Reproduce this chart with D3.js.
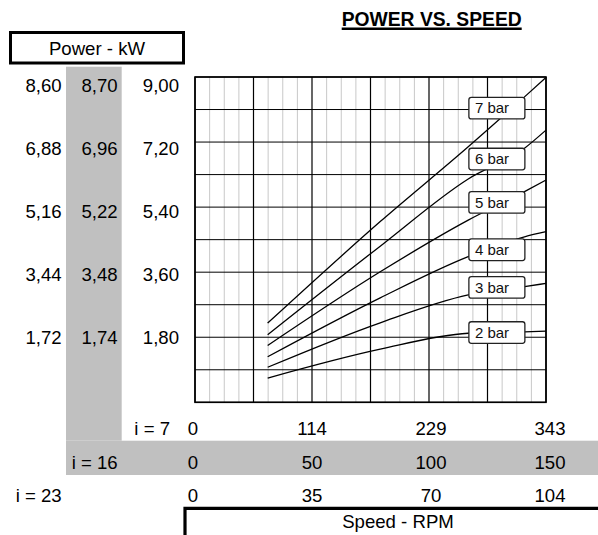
<!DOCTYPE html>
<html>
<head>
<meta charset="utf-8">
<script src="https://cdn.jsdelivr.net/npm/d3@7"></script>
<style>
  body { margin: 0; background: #fff; }
  svg { display: block; font-family: "Liberation Sans", Arial, sans-serif; }
</style>
</head>
<body>
<svg id="chart" width="598" height="535"></svg>
<script>
// speed (rpm, i = 7) where curves are sampled
var speedI7 = [71, 181, 267, 322, 343];

// power (kW) per pressure
var seriesNames = ["2 bar", "3 bar", "4 bar", "5 bar", "6 bar", "7 bar"];
var kw2 = [0.67, 1.47, 1.91, 1.95, 1.97];
var kw3 = [0.97, 2.20, 2.97, 3.20, 3.29];
var kw4 = [1.26, 2.89, 4.03, 4.58, 4.72];
var kw5 = [1.57, 3.61, 5.04, 5.83, 6.15];
var kw6 = [1.87, 4.32, 6.18, 7.03, 7.53];
var kw7 = [2.19, 5.00, 7.07, 8.45, 8.99];
var seriesValues = [kw2, kw3, kw4, kw5, kw6, kw7];

// where the "x bar" labels sit
var labelSpeed = 295;
var labelKw = [1.93, 3.18, 4.22, 5.53, 6.73, 8.14];

// tick labels
var powerCol1 = [8.60, 6.88, 5.16, 3.44, 1.72];
var powerCol2 = [8.70, 6.96, 5.22, 3.48, 1.74];
var powerCol3 = [9.00, 7.20, 5.40, 3.60, 1.80];
var rpmI7 = [0, 114, 229, 343];
var rpmI16 = [0, 50, 100, 150];
var rpmI23 = [0, 35, 70, 104];

var svg = d3.select("#chart");
var gray = "#c0c0c0";
var fs = 18.6;

var x = d3.scaleLinear().domain([0, 343]).range([195, 546]);
var y = d3.scaleLinear().domain([0, 9]).range([402.3, 77]);

var loc = d3.formatLocale({decimal: ",", thousands: ".", grouping: [3], currency: ["", ""]});
var f2 = loc.format(".2f");

// grey bands
svg.append("rect").attr("x", 66).attr("y", 66.7).attr("width", 55.7).attr("height", 374).attr("fill", gray);
svg.append("rect").attr("x", 66).attr("y", 440.7).attr("width", 532).attr("height", 34.3).attr("fill", gray);

// title
var title = svg.append("text").attr("x", 431.7).attr("y", 26)
  .attr("text-anchor", "middle").attr("font-weight", "bold").attr("font-size", 19.3)
  .text("POWER VS. SPEED");
var tw = title.node().getComputedTextLength();
svg.append("line").attr("x1", 431.7 - tw / 2).attr("x2", 431.7 + tw / 2)
  .attr("y1", 28.7).attr("y2", 28.7).attr("stroke", "#000").attr("stroke-width", 2.4);

// Power - kW box
svg.append("rect").attr("x", 10.5).attr("y", 32.5).attr("width", 173).attr("height", 30.5)
  .attr("fill", "none").attr("stroke", "#000").attr("stroke-width", 3);
svg.append("text").attr("x", 97).attr("y", 55).attr("text-anchor", "middle")
  .attr("font-size", fs).text("Power - kW");

// grid
var minor = d3.range(25).map(function(i) { return i * 343 / 24; });
var g = svg.append("g");
g.selectAll(".vminor").data(minor.filter(function(d, i) { return i % 4 != 0; }))
  .enter().append("line")
  .attr("x1", function(d) { return x(d); }).attr("x2", function(d) { return x(d); })
  .attr("y1", y(9)).attr("y2", y(0)).attr("stroke", "#c8c8c8").attr("stroke-width", 1);
g.selectAll(".h").data(d3.range(11).map(function(i) { return i * 0.9; }))
  .enter().append("line")
  .attr("x1", x(0)).attr("x2", x(343))
  .attr("y1", function(d) { return y(d); }).attr("y2", function(d) { return y(d); })
  .attr("stroke", "#000").attr("stroke-width", 1);
g.selectAll(".vmajor").data(minor.filter(function(d, i) { return i % 4 == 0; }))
  .enter().append("line")
  .attr("x1", function(d) { return x(d); }).attr("x2", function(d) { return x(d); })
  .attr("y1", y(9)).attr("y2", y(0)).attr("stroke", "#000").attr("stroke-width", 1.2);
g.append("rect").attr("x", x(0)).attr("y", y(9)).attr("width", x(343) - x(0)).attr("height", y(0) - y(9))
  .attr("fill", "none").attr("stroke", "#000").attr("stroke-width", 1.6);

// curves
var line = d3.line()
  .x(function(d, i) { return x(speedI7[i]); })
  .y(function(d) { return y(d); })
  .curve(d3.curveMonotoneX);
svg.selectAll(".curve").data(seriesValues).enter().append("path")
  .attr("d", line).attr("fill", "none").attr("stroke", "#000").attr("stroke-width", 1.3);

// series labels
var lab = svg.selectAll(".lab").data(seriesNames).enter().append("g")
  .attr("transform", function(d, i) { return "translate(" + x(labelSpeed) + "," + y(labelKw[i]) + ")"; });
lab.append("rect").attr("x", -28).attr("y", -10.8).attr("width", 56).attr("height", 21.6)
  .attr("rx", 2.5).attr("fill", "#fff").attr("stroke", "#222").attr("stroke-width", 1.3);
lab.append("text").attr("x", -22).attr("y", 5.2).attr("font-size", 15).attr("fill", "#111")
  .text(function(d) { return d; });

// power columns
var rowY = d3.scalePoint().domain(d3.range(5)).range([91.7, 344]);
[[powerCol1, 61.7], [powerCol2, 117.7], [powerCol3, 179]].forEach(function(c) {
  svg.selectAll(null).data(c[0]).enter().append("text")
    .attr("x", c[1]).attr("y", function(d, i) { return rowY(i); })
    .attr("text-anchor", "end").attr("font-size", fs).text(function(d) { return f2(d); });
});

// speed rows
var colX = d3.scalePoint().domain(d3.range(4)).range([193, 550]);
[[rpmI7, 435, "i = 7", 170], [rpmI16, 469, "i = 16", 117.7], [rpmI23, 501.7, "i = 23", 61.7]].forEach(function(r) {
  svg.append("text").attr("x", r[3]).attr("y", r[1]).attr("text-anchor", "end")
    .attr("font-size", fs).text(r[2]);
  svg.selectAll(null).data(r[0]).enter().append("text")
    .attr("x", function(d, i) { return colX(i); }).attr("y", r[1])
    .attr("text-anchor", "middle").attr("font-size", fs).text(function(d) { return d; });
});

// Speed - RPM box
svg.append("path").attr("d", "M185,540 V508.3 H600").attr("fill", "none")
  .attr("stroke", "#000").attr("stroke-width", 3.2);
svg.append("text").attr("x", 398).attr("y", 528.3).attr("text-anchor", "middle")
  .attr("font-size", fs).text("Speed - RPM");
</script>
</body>
</html>
